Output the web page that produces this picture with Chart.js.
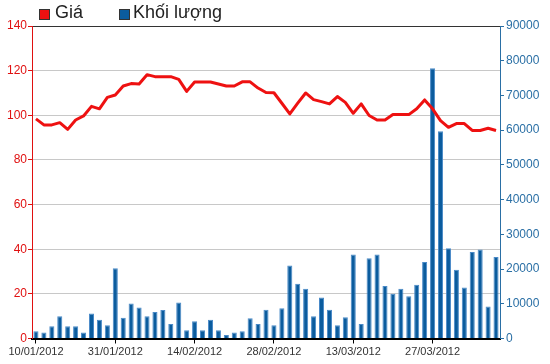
<!DOCTYPE html>
<html>
<head>
<meta charset="utf-8">
<script src="https://cdn.jsdelivr.net/npm/chart.js@4/dist/chart.umd.min.js"></script>
<style>
  body { margin: 0; background: #fff; }
  #wrap { position: relative; width: 550px; height: 364px; }
  #legend { position: absolute; left: 0; top: 0; font: 18px 'Liberation Sans', Arial, sans-serif; color: #222; }
  .box { position: absolute; top: 9px; width: 11px; height: 11px; border: 1px solid #333; box-sizing: border-box; }
  .lbl { position: absolute; top: 2px; white-space: nowrap; }
</style>
</head>
<body>
<div id="wrap">
  <canvas id="chart" width="550" height="364"></canvas>
  <div id="legend">
    <div class="box" style="left:39px;background:#ee1111"></div>
    <div class="lbl" style="left:55px">Giá</div>
    <div class="box" style="left:119px;background:#0b5c9e"></div>
    <div class="lbl" style="left:133px">Khối lượng</div>
  </div>
</div>
<script>
// trading days
const dates = [
  '10/01/2012','11/01/2012','12/01/2012','13/01/2012','16/01/2012','17/01/2012','18/01/2012','19/01/2012','20/01/2012','30/01/2012',
  '31/01/2012','01/02/2012','02/02/2012','03/02/2012','06/02/2012','07/02/2012','08/02/2012','09/02/2012','10/02/2012','13/02/2012',
  '14/02/2012','15/02/2012','16/02/2012','17/02/2012','20/02/2012','21/02/2012','22/02/2012','23/02/2012','24/02/2012','27/02/2012',
  '28/02/2012','29/02/2012','01/03/2012','02/03/2012','05/03/2012','06/03/2012','07/03/2012','08/03/2012','09/03/2012','12/03/2012',
  '13/03/2012','14/03/2012','15/03/2012','16/03/2012','19/03/2012','20/03/2012','21/03/2012','22/03/2012','23/03/2012','26/03/2012',
  '27/03/2012','28/03/2012','29/03/2012','30/03/2012','03/04/2012','04/04/2012','05/04/2012','06/04/2012','09/04/2012'
];

// price (left axis)
const price = [
  98.4, 95.7, 95.7, 96.7, 93.7, 97.9, 99.7, 104, 102.9, 108,
  109.1, 113.1, 114.2, 114, 118.2, 117.3, 117.3, 117.3, 116.1, 110.7,
  114.9, 114.9, 114.9, 114, 113.1, 113.1, 115, 115, 112.2, 110.2,
  110.1, 105.4, 100.6, 105.4, 110, 107, 106.1, 105.1, 108.4, 105.8,
  100.9, 105.1, 99.9, 97.9, 97.9, 100.3, 100.3, 100.3, 102.9, 106.9,
  102.9, 97.6, 94.6, 96.3, 96.3, 93.2, 93.2, 94.2, 93.2
];

// volume (right axis)
const volume = [
  2100, 1700, 3500, 6400, 3500, 3500, 1700, 7200, 5400, 3800,
  20200, 6000, 10100, 8900, 6400, 7600, 8200, 4200, 10400, 2400,
  5000, 2400, 5400, 2400, 1000, 1700, 2100, 5800, 4200, 8300,
  3800, 8700, 21000, 15800, 14300, 6400, 11800, 8300, 3800, 6100,
  24200, 4200, 23100, 24200, 15100, 12900, 14300, 12200, 15500, 22000,
  77800, 59700, 26000, 19800, 14700, 24900, 25600, 9200, 23500
];

const priceTicks = [0, 140, 20];
const volumeTicks = [0, 90000, 10000];

Chart.defaults.font.family = "'Liberation Sans', Arial, sans-serif";

new Chart(document.getElementById('chart'), {
  data: {
    labels: dates,
    datasets: [
      {
        type: 'line',
        label: 'Giá',
        data: price,
        yAxisID: 'y',
        borderColor: '#ee1111',
        borderWidth: 3,
        pointRadius: 0,
        tension: 0,
        borderJoinStyle: 'round',
        order: 1
      },
      {
        type: 'bar',
        label: 'Khối lượng',
        data: volume,
        yAxisID: 'y1',
        backgroundColor: '#0b5c9e',
        borderColor: '#4a8ac8',
        borderWidth: 1,
        barPercentage: 0.64,
        categoryPercentage: 1,
        order: 2
      }
    ]
  },
  options: {
    responsive: false,
    animation: false,
    layout: { padding: { top: 26, left: 0, right: 0, bottom: 0 } },
    plugins: { legend: { display: false }, tooltip: { enabled: false } },
    scales: {
      x: {
        afterFit: s => { s.height = 25.5; },
        grid: {
          offset: false,
          drawOnChartArea: false,
          tickLength: 5,
          color: c => (c.index % 10 === 0 ? '#000' : 'rgba(0,0,0,0)')
        },
        border: { color: '#000', width: 2 },
        ticks: {
          autoSkip: false,
          maxRotation: 0,
          padding: 2,
          color: '#333',
          font: { size: 11 },
          callback: (v, i) => (i % 10 === 0 ? dates[i] : '')
        }
      },
      y: {
        position: 'left',
        min: priceTicks[0],
        max: priceTicks[1],
        afterFit: s => { s.width = 32; },
        ticks: { stepSize: priceTicks[2], color: '#e01010', font: { size: 12 }, padding: 1 },
        grid: {
          tickLength: 4,
          tickColor: '#e01010',
          color: c => (c.tick.value === 0 ? 'rgba(0,0,0,0)' : c.tick.value === 140 ? '#333' : '#c8c8c8')
        },
        border: { color: '#e01010', width: 1 }
      },
      y1: {
        position: 'right',
        min: volumeTicks[0],
        max: volumeTicks[1],
        afterFit: s => { s.width = 50; },
        ticks: { stepSize: volumeTicks[2], color: '#2a6fa5', font: { size: 12 }, padding: 2, callback: v => String(v) },
        grid: { drawOnChartArea: false, tickLength: 4, tickColor: '#2a6fa5' },
        border: { color: '#2a6fa5', width: 1 }
      }
    }
  }
});
</script>
</body>
</html>
